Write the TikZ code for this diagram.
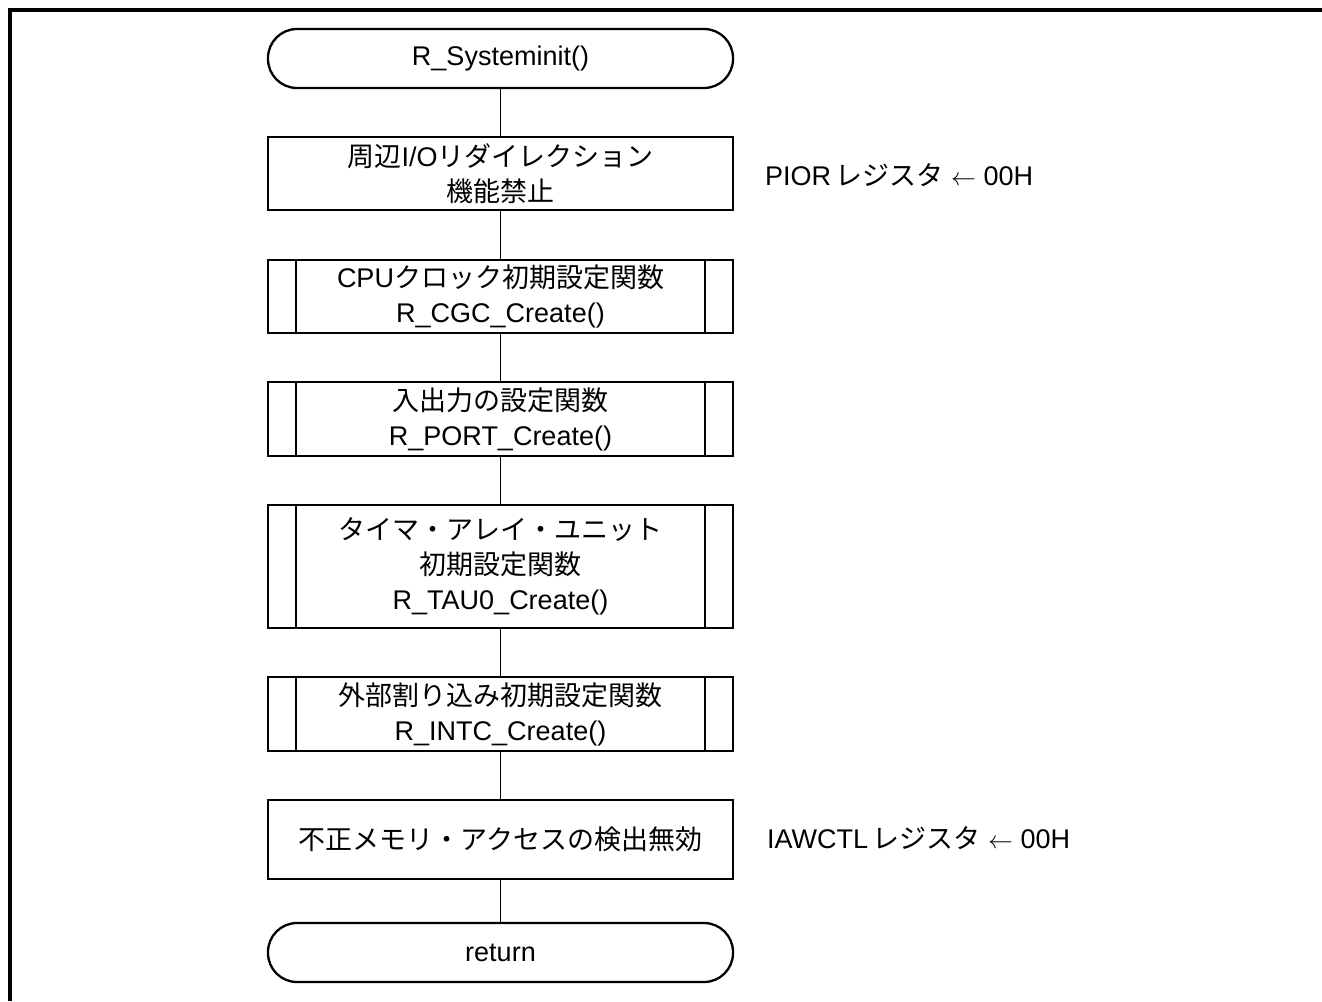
\documentclass[tikz,border=0pt]{standalone}
\usepackage{fontspec}
\setmainfont{Liberation Sans}
\newfontfamily\jpfont{Noto Sans CJK JP}
\newcommand{\jp}[1]{{\jpfont #1}}
\tikzset{
  every node/.style={font=\fontsize{27}{35}\selectfont},
  box edge/.style={draw=black, line width=2.3pt}
  }
\tikzstyle{terminal} = [box edge, rectangle, rounded corners=29pt, minimum width=465pt, minimum height=59pt, inner sep=0pt, align=center]
\tikzstyle{process} = [box edge, rectangle, minimum width=465pt, inner sep=0pt, align=center]
\tikzstyle{flow} = [draw, line width=1.7pt, -]
\tikzstyle{note} = [anchor=west, inner sep=0pt]

\begin{document}
\begin{tikzpicture}[x=1pt, y=-1pt]

    % The page and its frame
    \useasboundingbox (0,0) rectangle (1322,1001);
    \draw[line width=3.2pt] (10,1001) -- (10,10) -- (1322,10);

    % Start and end
    \node[terminal] (start) at (500.5,58.5) {R\_Systeminit()};
    \node[terminal] (ret) at (500.5,952.5) {return};

    % The steps
    \node[process, minimum height=73pt] (pior) at (500.5,173.5) {\jp{周辺}I/O\jp{リダイレクション}\\\jp{機能禁止}};
    \node[process, minimum height=73pt] (cgc) at (500.5,296.5) {CPU\jp{クロック初期設定関数}\\R\_CGC\_Create()};
    \node[process, minimum height=74pt] (port) at (500.5,419) {\jp{入出力の設定関数}\\R\_PORT\_Create()};
    \node[process, minimum height=123pt] (tau) at (500.5,566.5) {\jp{タイマ・アレイ・ユニット}\\\jp{初期設定関数}\\R\_TAU0\_Create()};
    \node[process, minimum height=74pt] (intc) at (500.5,714) {\jp{外部割り込み初期設定関数}\\R\_INTC\_Create()};
    \node[process, minimum height=79pt] (iawctl) at (500.5,839.5) {\jp{不正メモリ・アクセスの検出無効}};

    % The register notes
    \node[note] (piornote) at (765,175) {PIOR\,\jp{レジスタ} $\leftarrow$ 00H};
    \node[note] (iawnote) at (767,838) {IAWCTL\,\jp{レジスタ} $\leftarrow$ 00H};

    % Sides of the subroutine boxes
    \foreach \name in {cgc, port, tau, intc} {
      \draw[box edge] ([xshift=29pt]\name.north west) -- ([xshift=29pt]\name.south west);
      \draw[box edge] ([xshift=-29pt]\name.north east) -- ([xshift=-29pt]\name.south east);
    }

    % The flow between them
    \foreach \source/\sink in {start/pior, pior/cgc, cgc/port, port/tau, tau/intc, intc/iawctl, iawctl/ret}
      \path[flow] (\source) -- (\sink);
\end{tikzpicture}
\end{document}
